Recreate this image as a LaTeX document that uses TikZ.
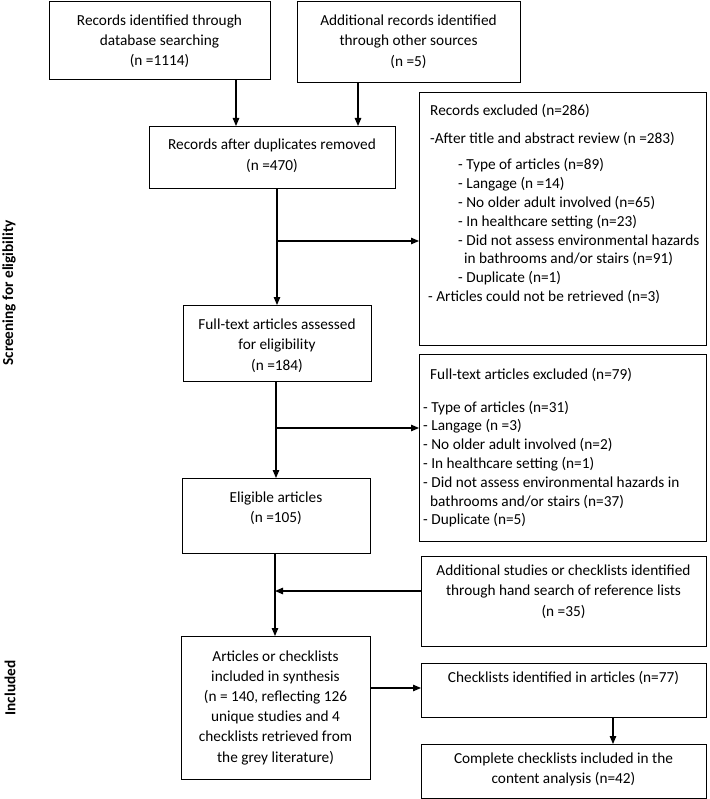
\documentclass[tikz,border=0pt]{standalone}
\usepackage{fontspec}
\setmainfont{Carlito}
\usetikzlibrary{arrows.meta}
\begin{document}
\begin{tikzpicture}[x=1pt,y=-1pt,
  box/.style={draw, line width=1.1pt, inner sep=0pt, anchor=north west},
  ctext/.style={align=center, font=\fontsize{15.3}{20.2}\selectfont, inner sep=0pt},
  ltext/.style={align=left, font=\fontsize{15.3}{18.8}\selectfont, inner sep=0pt, anchor=north west},
  arr/.style={line width=1.1pt, -{Triangle[length=8pt,width=6.5pt]}},
  side/.style={font=\fontsize{15.3}{18}\selectfont\bfseries, rotate=90, inner sep=0pt}]
\useasboundingbox (0,0) rectangle (709,799);
% boxes
\node[box, minimum width=221pt, minimum height=78pt]  (b1)  at (49,1) {};
\node[box, minimum width=223pt, minimum height=81pt]  (b2)  at (297,1) {};
\node[box, minimum width=246pt, minimum height=62pt]  (b3)  at (149,126) {};
\node[box, minimum width=287pt, minimum height=253pt] (ex1) at (419,92) {};
\node[box, minimum width=188pt, minimum height=76pt]  (b4)  at (183,305) {};
\node[box, minimum width=287pt, minimum height=187pt] (ex2) at (419,354) {};
\node[box, minimum width=188pt, minimum height=75pt]  (b5)  at (182,478) {};
\node[box, minimum width=285pt, minimum height=90pt]  (add) at (421,556) {};
\node[box, minimum width=189pt, minimum height=143pt] (b6)  at (181,636) {};
\node[box, minimum width=285pt, minimum height=54pt]  (b7)  at (421,663) {};
\node[box, minimum width=285pt, minimum height=54pt]  (b8)  at (421,744) {};
% texts
\node[ctext] (t1) at (159.5,41.5) {Records identified through\\database searching\\(n =1114)};
\node[ctext] (t2) at (408.5,41.7) {Additional records identified\\through other sources\\(n =5)};
\node[ctext] (t3) at (272,155.7) {Records after duplicates removed\\(n =470)};
\node[ctext] (t4) at (277,345.7) {Full-text articles assessed\\for eligibility\\(n =184)};
\node[ctext] (t5) at (276,508.5) {Eligible articles\\(n =105)};
\node[ctext] (ta) at (563.5,591.7) {Additional studies or checklists identified\\through hand search of reference lists\\(n =35)};
\node[ctext] (t6) at (275.5,707.5) {Articles or checklists\\included in synthesis\\(n = 140, reflecting 126\\unique studies and 4\\checklists retrieved from\\the grey literature)};
\node[ctext] (t7) at (563.5,678.3) {Checklists identified in articles (n=77)};
\node[ctext] (t8) at (563.5,769.3) {Complete checklists included in the\\content analysis (n=42)};
\node[ltext] (tx1) at (428,104) {\hspace*{2pt}Records excluded (n=286)\\[9pt]
\hspace*{2pt}-After title and abstract review (n =283)\\[8pt]
\hspace*{30pt}- Type of articles (n=89)\\
\hspace*{30pt}- Langage (n =14)\\
\hspace*{30pt}- No older adult involved (n=65)\\
\hspace*{30pt}- In healthcare setting (n=23)\\
\hspace*{30pt}- Did not assess environmental hazards\\
\hspace*{36pt}in bathrooms and/or stairs (n=91)\\
\hspace*{30pt}- Duplicate (n=1)\\
- Articles could not be retrieved (n=3)};
\node[ltext] (tx2) at (423,368) {\hspace*{7pt}Full-text articles excluded (n=79)\\[14pt]
- Type of articles (n=31)\\
- Langage (n =3)\\
- No older adult involved (n=2)\\
- In healthcare setting (n=1)\\
- Did not assess environmental hazards in\\
\hspace*{7pt}bathrooms and/or stairs (n=37)\\
- Duplicate (n=5)};
% side labels
\node[side] (s1) at (9,293) {Screening for eligibility};
\node[side] (s2) at (10,688) {Included};
% connectors
\coordinate (c1) at (236,0);
\coordinate (c2) at (358,0);
\coordinate (c3) at (277,0);
\coordinate (c4) at (276,0);
\coordinate (c5) at (275,0);
\coordinate (c6) at (613,0);
\coordinate (j1) at (277,241);
\coordinate (j2) at (276,428);
\coordinate (j3) at (275,591);
\coordinate (j4) at (0,688);
\draw[arr] (b1.south -| c1) -- (b3.north -| c1);
\draw[arr] (b2.south -| c2) -- (b3.north -| c2);
\draw[arr] (b3.south -| c3) -- (b4.north -| c3);
\draw[arr] (j1) -- (ex1.west |- j1);
\draw[arr] (b4.south -| c4) -- (b5.north -| c4);
\draw[arr] (j2) -- (ex2.west |- j2);
\draw[arr] (b5.south -| c5) -- (b6.north -| c5);
\draw[arr] (add.west |- j3) -- (j3);
\draw[arr] (b6.east |- j4) -- (b7.west |- j4);
\draw[arr] (b7.south -| c6) -- (b8.north -| c6);
\end{tikzpicture}
\end{document}
